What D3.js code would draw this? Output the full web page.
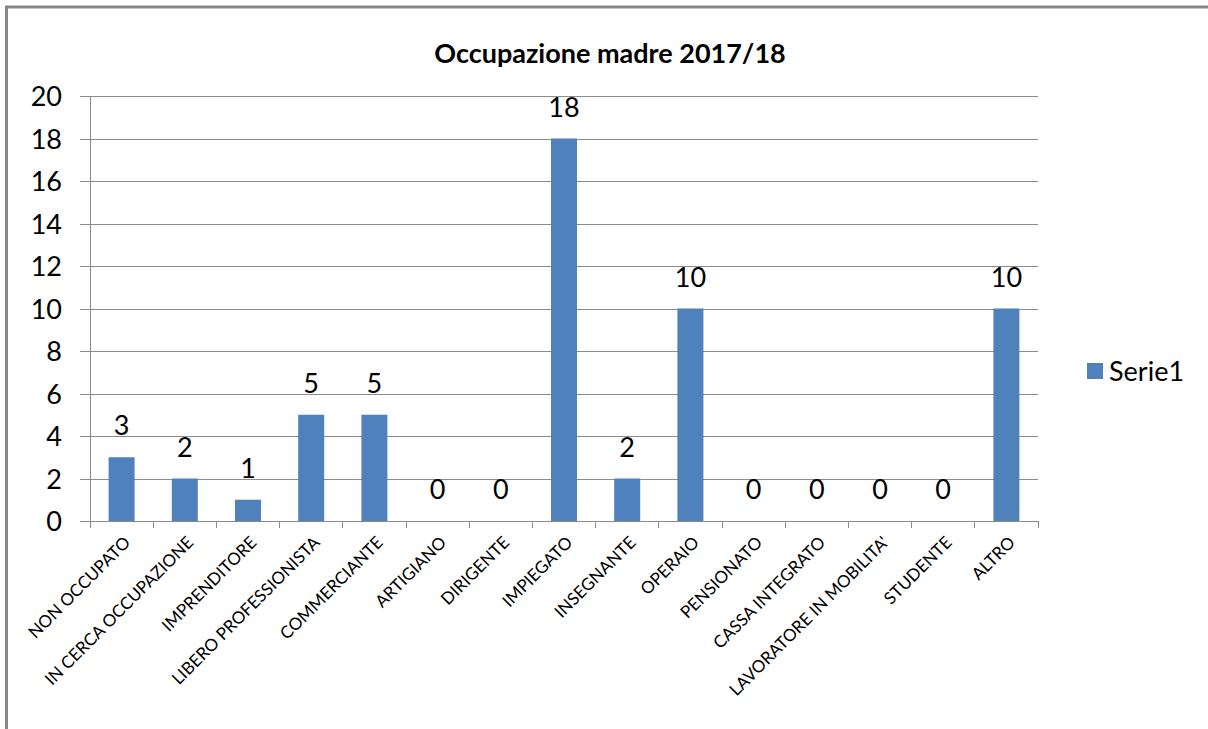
<!DOCTYPE html>
<html>
<head>
<meta charset="utf-8">
<script src="https://cdn.jsdelivr.net/npm/d3@7"></script>
<style>
  html, body { margin: 0; padding: 0; background: #fff; }
  svg { display: block; }
  text { font-family: Lato, "Liberation Sans", sans-serif; fill: #000; }
</style>
</head>
<body>
<svg id="chart" width="1208" height="729"></svg>
<script>
const title = "Occupazione madre 2017/18";
const seriesName = "Serie1";
const categories = ["NON OCCUPATO","IN CERCA OCCUPAZIONE","IMPRENDITORE","LIBERO PROFESSIONISTA","COMMERCIANTE","ARTIGIANO","DIRIGENTE","IMPIEGATO","INSEGNANTE","OPERAIO","PENSIONATO","CASSA INTEGRATO","LAVORATORE IN MOBILITA'","STUDENTE","ALTRO"];
const values = [3,2,1,5,5,0,0,18,2,10,0,0,0,0,10];
const yTicks = [0,2,4,6,8,10,12,14,16,18,20];

const svg = d3.select("#chart");
const W = 1208, H = 729;
const plot = {left: 90, right: 1038, top: 96, bottom: 521};
const barColor = "#4F81BD";
const gridColor = "#8c8c8c";

svg.append("rect").attr("width", W).attr("height", H).attr("fill", "#fff");
// outer frame (right/bottom cropped off)
svg.append("rect").attr("x", 6.5).attr("y", 7).attr("width", 1230).attr("height", 760)
  .attr("fill", "none").attr("stroke", "#878787").attr("stroke-width", 3);

const x = d3.scaleBand().domain(categories).range([plot.left, plot.right]).paddingInner(0).paddingOuter(0);
const y = d3.scaleLinear().domain([0, 20]).range([plot.bottom, plot.top]);

// gridlines + y axis
const yAxis = d3.axisLeft(y).tickValues(yTicks).tickSize(-(plot.right - plot.left)).tickPadding(0).tickFormat(d3.format("d"));
const gy = svg.append("g").attr("transform", `translate(${plot.left},0)`).call(yAxis);
gy.select(".domain").remove();
gy.selectAll(".tick line").attr("stroke", gridColor).attr("x1", -10).attr("shape-rendering", "crispEdges");
gy.selectAll(".tick text").attr("x", -28).attr("font-size", 27).attr("dy", "0.36em");
svg.append("line").attr("x1", plot.left).attr("x2", plot.left).attr("y1", plot.top).attr("y2", plot.bottom)
  .attr("stroke", gridColor).attr("shape-rendering", "crispEdges");

// x axis
const xAxis = d3.axisBottom(x).tickSize(0).tickFormat("");
const gx = svg.append("g").attr("transform", `translate(0,${plot.bottom})`).call(xAxis);
gx.select(".domain").attr("stroke", gridColor).attr("d", `M${plot.left},0H${plot.right}`).attr("shape-rendering", "crispEdges");
gx.selectAll(".tick").remove();
const bounds = categories.map(c => x(c)).concat([plot.right]);
svg.append("g").selectAll("line").data(bounds).join("line")
  .attr("x1", d => d).attr("x2", d => d).attr("y1", plot.bottom).attr("y2", plot.bottom + 7)
  .attr("stroke", gridColor).attr("shape-rendering", "crispEdges");

// category labels
svg.append("g").selectAll("text").data(categories).join("text")
  .attr("transform", d => `translate(${x(d) + x.bandwidth()/2 + 1},${plot.bottom + 14}) rotate(-45)`)
  .attr("text-anchor", "end").attr("dy", "0.72em").attr("font-size", 17)
  .text(d => d);

// bars
const barW = 26;
svg.append("g").selectAll("rect").data(values).join("rect")
  .attr("x", (d, i) => x(categories[i]) + x.bandwidth()/2 - barW/2)
  .attr("width", barW)
  .attr("y", d => y(d))
  .attr("height", d => y(0) - y(d))
  .attr("fill", barColor);

// data labels
svg.append("g").selectAll("text").data(values).join("text")
  .attr("x", (d, i) => x(categories[i]) + x.bandwidth()/2)
  .attr("y", d => y(d) - 22)
  .attr("text-anchor", "middle").attr("font-size", 27)
  .text(d => d);

// title
svg.append("text").attr("x", 610).attr("y", 63).attr("text-anchor", "middle")
  .attr("font-size", 27).attr("font-weight", "bold").text(title);

// legend
svg.append("rect").attr("x", 1087).attr("y", 363).attr("width", 16).attr("height", 16).attr("fill", barColor);
svg.append("text").attr("x", 1109).attr("y", 381).attr("font-size", 27).text(seriesName);
</script>
</body>
</html>
